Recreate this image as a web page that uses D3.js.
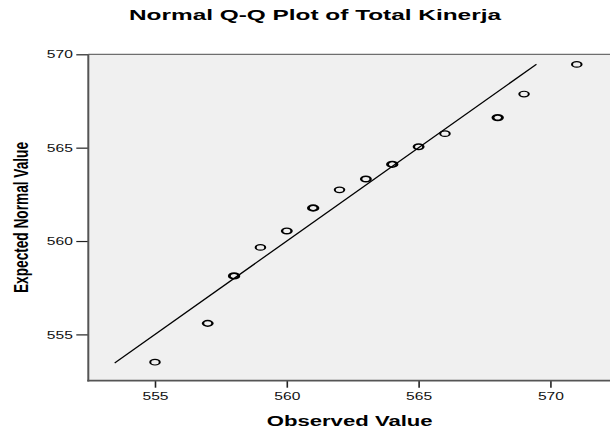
<!DOCTYPE html>
<html>
<head>
<meta charset="utf-8">
<script src="https://cdn.jsdelivr.net/npm/d3@7"></script>
<style>
  html, body { margin: 0; padding: 0; background: #fff; }
  svg { display: block; font-family: "Liberation Sans", Arial, sans-serif; }
</style>
</head>
<body>
<svg id="chart" width="610" height="429"></svg>
<script>
// ---- data ----
const observed = [555, 557, 558, 559, 560, 561, 562, 563, 564, 565, 566, 568, 569, 571];
const expected = [553.51, 555.59, 558.13, 559.66, 560.54, 561.77, 562.74, 563.32, 564.11, 565.05, 565.75, 566.61, 567.87, 569.46];
const counts   = [1, 2, 3, 1, 2, 3, 1, 2, 3, 2, 1, 3, 1, 1];
const refLine  = [553.47, 569.47];
const xTicks   = [555, 560, 565, 570];
const yTicks   = [555, 560, 565, 570];
const titleText = "Normal Q-Q Plot of Total Kinerja";
const xLabel = "Observed Value";
const yLabel = "Expected Normal Value";

// ---- layout ----
const L = 88.3, R = 610, T = 54.3, B = 380.7;
const svg = d3.select("#chart");

const x = d3.scaleLinear().domain([552.47, 572.26]).range([L, R]);
const y = d3.scaleLinear().domain([552.52, 570]).range([B, T]);

// plot background
svg.append("rect")
  .attr("x", L).attr("y", T)
  .attr("width", R - L).attr("height", B - T)
  .attr("fill", "#f0f0f0");

// top border
svg.append("line")
  .attr("x1", L).attr("x2", R).attr("y1", T).attr("y2", T)
  .attr("stroke", "#6e6e6e").attr("stroke-width", 1.2);

// reference line
svg.append("line")
  .attr("x1", x(refLine[0])).attr("y1", y(refLine[0]))
  .attr("x2", x(refLine[1])).attr("y2", y(refLine[1]))
  .attr("stroke", "#000").attr("stroke-width", 1.3);

// points (horizontally stretched circles, stroke stretched too)
svg.append("g").selectAll("circle")
  .data(observed.map((o, i) => ({o, e: expected[i], c: counts[i]})))
  .join("circle")
  .attr("transform", d => `translate(${x(d.o)},${y(d.e)}) scale(1.7,1)`)
  .attr("r", 2.8)
  .attr("fill", "none")
  .attr("stroke", "#000")
  .attr("stroke-width", d => d.c >= 3 ? 1.7 : d.c === 2 ? 1.45 : 1.2);

// x axis
const xAxis = svg.append("g")
  .attr("transform", `translate(0,${B})`)
  .call(d3.axisBottom(x).tickValues(xTicks).tickSize(7).tickSizeOuter(0).tickFormat(d3.format("d")));
xAxis.select(".domain").remove();
xAxis.selectAll(".tick line").attr("stroke", "#222").attr("stroke-width", 1.6);
xAxis.selectAll(".tick text")
  .attr("y", 19.8).attr("dy", null)
  .attr("font-size", 10).attr("fill", "#111")
  .attr("font-family", "Liberation Sans, Arial, sans-serif")
  .attr("textLength", 26).attr("lengthAdjust", "spacingAndGlyphs");

// y axis
const yAxis = svg.append("g")
  .attr("transform", `translate(${L},0)`)
  .call(d3.axisLeft(y).tickValues(yTicks).tickSize(12).tickSizeOuter(0).tickFormat(d3.format("d")));
yAxis.select(".domain").remove();
yAxis.selectAll(".tick line").attr("stroke", "#222").attr("stroke-width", 1.2);
yAxis.selectAll(".tick text")
  .attr("x", -15.5).attr("dy", "0.36em")
  .attr("font-size", 10).attr("fill", "#111")
  .attr("font-family", "Liberation Sans, Arial, sans-serif")
  .attr("textLength", 26).attr("lengthAdjust", "spacingAndGlyphs");

// axis lines
svg.append("line")
  .attr("x1", L).attr("x2", L).attr("y1", T).attr("y2", B + 0.8)
  .attr("stroke", "#555").attr("stroke-width", 2);
svg.append("line")
  .attr("x1", L - 1).attr("x2", R).attr("y1", B).attr("y2", B)
  .attr("stroke", "#555").attr("stroke-width", 1.8);

// title
svg.append("text")
  .attr("x", 315).attr("y", 20)
  .attr("text-anchor", "middle")
  .attr("font-size", 14).attr("font-weight", "bold").attr("fill", "#000")
  .attr("textLength", 372).attr("lengthAdjust", "spacingAndGlyphs")
  .text(titleText);

// x label
svg.append("text")
  .attr("x", 349.7).attr("y", 425.5)
  .attr("text-anchor", "middle")
  .attr("font-size", 15).attr("font-weight", "bold").attr("fill", "#000")
  .attr("textLength", 166).attr("lengthAdjust", "spacingAndGlyphs")
  .text(xLabel);

// y label (rotated, stretched horizontally)
svg.append("text")
  .attr("transform", "translate(27.5,217.5) scale(1.5,1) rotate(-90)")
  .attr("text-anchor", "middle")
  .attr("font-size", 13.5).attr("font-weight", "bold").attr("fill", "#000")
  .attr("textLength", 151).attr("lengthAdjust", "spacingAndGlyphs")
  .text(yLabel);
</script>
</body>
</html>
